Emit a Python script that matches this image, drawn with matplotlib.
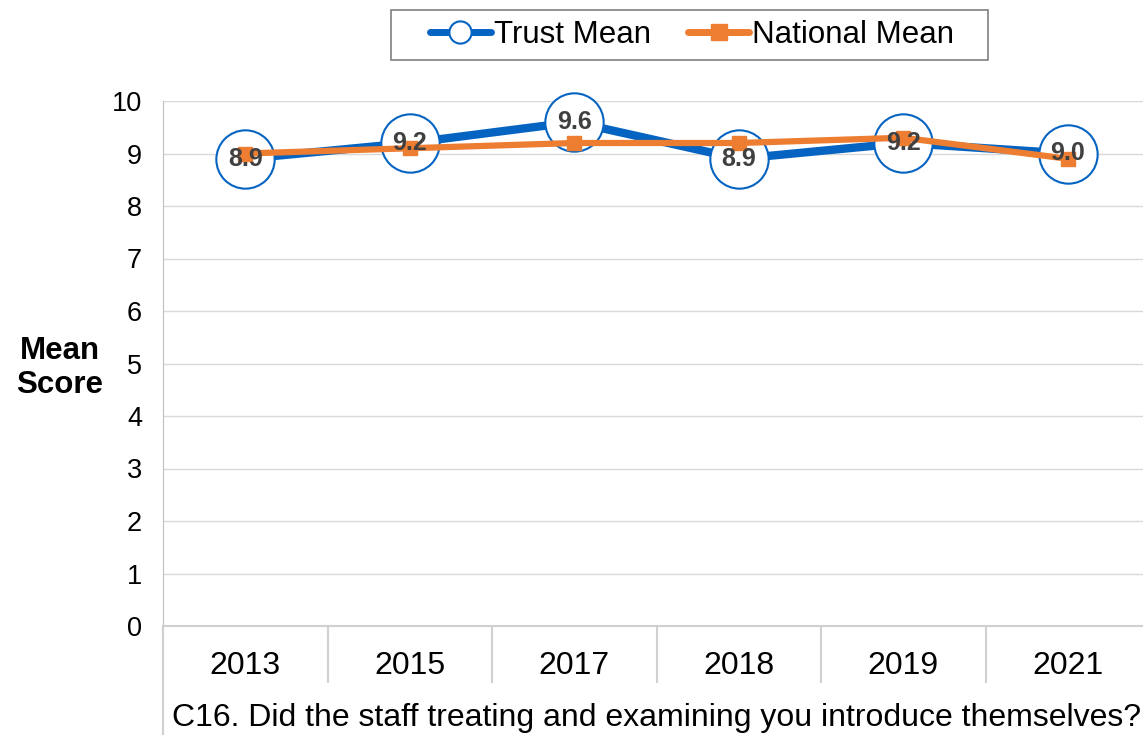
import matplotlib.pyplot as plt
from matplotlib.lines import Line2D
from matplotlib.patches import Rectangle

plt.rcParams['font.family'] = ['Liberation Sans', 'DejaVu Sans']

years = ['2013', '2015', '2017', '2018', '2019', '2021']
trust_mean = [8.9, 9.2, 9.6, 8.9, 9.2, 9.0]
national_mean = [9.0, 9.1, 9.2, 9.2, 9.3, 8.9]
question = 'C16. Did the staff treating and examining you introduce themselves?'

blue = '#0563C1'
orange = '#ED7D31'
grey = '#BFBFBF'

W, H = 1143, 735
fig = plt.figure(figsize=(W / 100, H / 100), dpi=100)
left, right, top, bottom = 163 / W, 1150 / W, 1 - 101 / H, 1 - 626 / H
ax = fig.add_axes([left, bottom, right - left, top - bottom])

x = list(range(len(years)))
ax.plot(x, trust_mean, color=blue, lw=6, marker='o', ms=42, mfc='white',
        mec=blue, mew=1.5, zorder=3, clip_on=False, solid_capstyle='round')
ax.plot(x, national_mean, color=orange, lw=4.5, marker='s', ms=10, mfc=orange,
        mec=orange, zorder=4, clip_on=False)
for xi, v in zip(x, trust_mean):
    ax.text(xi, v, f'{v:.1f}', ha='center', va='center', fontsize=18,
            fontweight='bold', color='#404040', zorder=5)

ax.set_xlim(-0.5, len(years) - 0.5)
ax.set_ylim(0, 10)
ax.set_yticks(range(0, 11))
ax.yaxis.grid(True, color='#D9D9D9', lw=1)
ax.set_axisbelow(True)
ax.tick_params(axis='y', length=0, labelsize=19.5, pad=15)

ax.set_xticks(x)
ax.set_xticklabels(years)
ax.set_xticks([i + 0.5 for i in range(-1, len(years))], minor=True)
ax.tick_params(axis='x', which='major', length=0, labelsize=23, pad=18)
ax.tick_params(axis='x', which='minor', length=41, width=1.5, color='#D0D0D0',
               direction='out')

for s in ['top', 'right']:
    ax.spines[s].set_visible(False)
ax.spines['left'].set_color(grey)
ax.spines['bottom'].set_color('#D0D0D0')
ax.spines['bottom'].set_linewidth(1.5)

fig.add_artist(Line2D([left, left], [0, bottom], color='#D0D0D0', lw=1.5))

fig.text(60 / W, 1 - 368 / H, 'Mean\nScore', fontsize=22.5, fontweight='bold',
         ha='center', va='center', linespacing=1.2)

fig.text(172 / W, 1 - 718 / H, question, fontsize=23, ha='left', va='center')

# legend box drawn separately (wider side padding than matplotlib allows)
fig.add_artist(Rectangle((391 / W, 1 - 60 / H), 597 / W, 50 / H, fill=False,
                         edgecolor='#808080', lw=1.2, transform=fig.transFigure))
handles = [Line2D([], [], color=blue, lw=5, marker='o', ms=16, mfc='white', mec=blue,
                  mew=1.5, solid_capstyle='round'),
           Line2D([], [], color=orange, lw=5, marker='s', ms=11, mfc=orange,
                  mec=orange, solid_capstyle='round')]
fig.legend(handles, ['Trust Mean', 'National Mean'], loc='center',
           bbox_to_anchor=(692 / W, 1 - 35 / H), ncol=2, fontsize=22.5,
           frameon=False, handlelength=1.95, handletextpad=0.1,
           columnspacing=1.2, borderpad=0.0)

fig.savefig('out.png', dpi=100)
